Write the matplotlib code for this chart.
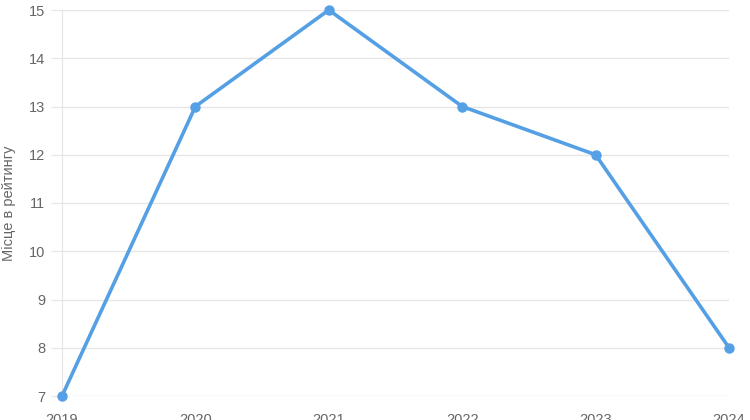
import matplotlib
matplotlib.use("Agg")
import matplotlib.pyplot as plt

years = [2019, 2020, 2021, 2022, 2023, 2024]
places = [7, 13, 15, 13, 12, 8]
y_ticks = [7, 8, 9, 10, 11, 12, 13, 14, 15]

plt.rcParams['font.family'] = ['Liberation Sans', 'DejaVu Sans']

fig = plt.figure(figsize=(7.5, 4.2), dpi=100)
ax = fig.add_axes([62 / 750, 1 - 396 / 420, (729 - 62) / 750, (396 - 10) / 420])

ax.plot(years, places, color='#55a0e5', linewidth=2.6, marker='o', markersize=6.5,
        clip_on=False, zorder=3)

ax.set_xlim(2019, 2024)
ax.set_ylim(7, 15)
ax.set_xticks(years)
ax.set_yticks(y_ticks)
ax.grid(axis='y', color='#e6e6e6', linewidth=1)
for s in ['top', 'right', 'bottom']:
    ax.spines[s].set_visible(False)
ax.spines['left'].set_color('#e6e6e6')
ax.tick_params(axis='y', length=8, color='#e6e6e6', labelcolor='#666666', labelsize=10.5, pad=4)
ax.tick_params(axis='x', length=0, labelcolor='#666666', labelsize=10.5, pad=12)
ax.set_ylabel('Місце в рейтингу', color='#666666', fontsize=10.5)
ax.yaxis.set_label_coords(-46 / 667, 0.5)

fig.savefig('out.png', dpi=100)
